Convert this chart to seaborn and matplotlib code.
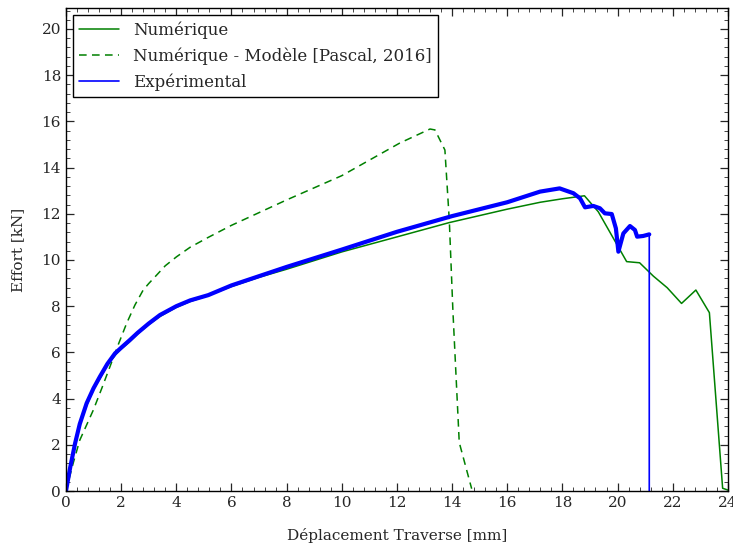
import matplotlib
matplotlib.use("Agg")
import matplotlib.pyplot as plt
import seaborn as sns
from matplotlib.ticker import MultipleLocator

# Numérique (solid green)
num_x = [0, 0.15, 0.3, 0.5, 0.75, 1.0, 1.25, 1.5, 1.8, 2.0, 2.3, 2.6, 3.0, 3.4, 4.0, 4.5, 5.0,
         6.0, 7.0, 8.0, 10.0, 12.0, 13.9, 16.0, 17.2, 18.0, 18.8, 19.3, 20.33, 20.8, 21.3,
         21.8, 22.32, 22.84, 23.33, 23.81, 24.1]
num_y = [0, 1.0, 1.95, 2.85, 3.7, 4.4, 4.9, 5.45, 5.9, 6.15, 6.45, 6.8, 7.2, 7.55, 7.95, 8.2,
         8.4, 8.85, 9.25, 9.6, 10.35, 11.0, 11.62, 12.2, 12.5, 12.65, 12.78, 12.09, 9.93,
         9.88, 9.3, 8.8, 8.12, 8.7, 7.72, 0.12, 0.0]

# Numérique - Modèle [Pascal, 2016] (dashed green)
pas_x = [0, 0.26, 0.5, 0.99, 1.3, 1.6, 1.9, 2.2, 2.5, 2.8, 3.0, 3.29, 3.6, 4.01, 4.5, 5.16,
         6.0, 8.0, 10.0, 12.1, 13.2, 13.38, 13.74, 13.9, 14.03, 14.26, 14.71]
pas_y = [0, 1.2, 2.2, 3.5, 4.45, 5.4, 6.35, 7.26, 8.05, 8.7, 8.98, 9.35, 9.75, 10.14, 10.55,
         10.98, 11.5, 12.6, 13.65, 15.06, 15.67, 15.63, 14.76, 11.7, 7.8, 2.1, 0.1]

# Expérimental (blue)
exp_x = [0, 0.15, 0.33, 0.5, 0.75, 1.0, 1.23, 1.5, 1.78, 2.0, 2.32, 2.6, 3.0, 3.41, 4.0, 4.5,
         5.16, 6.0, 7.0, 8.0, 10.0, 12.0, 14.0, 16.0, 17.19, 17.9, 18.4, 18.64, 18.82, 19.12,
         19.36, 19.54, 19.79, 19.94, 20.03, 20.21, 20.45, 20.63, 20.71, 20.93, 21.15, 21.15]
exp_y = [0, 1.0, 2.06, 2.9, 3.8, 4.45, 4.95, 5.5, 5.96, 6.2, 6.54, 6.85, 7.25, 7.62, 8.0, 8.25,
         8.48, 8.9, 9.3, 9.7, 10.45, 11.22, 11.9, 12.5, 12.96, 13.1, 12.89, 12.67, 12.28, 12.34,
         12.24, 12.02, 11.99, 11.37, 10.36, 11.15, 11.47, 11.3, 11.01, 11.04, 11.11, 0.0]

sns.set_style("ticks")
plt.rcParams['font.family'] = ['DejaVu Serif']
plt.rcParams['mathtext.fontset'] = 'dejavuserif'

fig = plt.figure(figsize=(7.33, 5.46), dpi=100)
ax = fig.add_axes([0.09, 0.1007, 0.903, 0.8843])

sns.lineplot(x=num_x, y=num_y, sort=False, estimator=None, color='#008000', lw=1.1,
             label='Numérique', ax=ax)
sns.lineplot(x=pas_x, y=pas_y, sort=False, estimator=None, color='#008000', lw=1.1,
             linestyle=(0, (5, 3.5)), label='Numérique - Modèle [Pascal, 2016]', ax=ax)
sns.lineplot(x=exp_x, y=exp_y, sort=False, estimator=None, color='#0000ff', lw=1.2,
             label='Expérimental', ax=ax)
# thick noisy band of the measurement (before the rupture)
ax.plot(exp_x[:-1], exp_y[:-1], color='#0000ff', lw=3)

ax.set_xlim(0, 24)
ax.set_ylim(0, 20.9)
ax.xaxis.set_major_locator(MultipleLocator(2))
ax.xaxis.set_minor_locator(MultipleLocator(0.4))
ax.yaxis.set_major_locator(MultipleLocator(2))
ax.yaxis.set_minor_locator(MultipleLocator(0.4))
ax.tick_params(which='both', direction='in', top=True, right=True, labelsize=11)
ax.tick_params(which='major', length=6, width=0.9)
ax.tick_params(which='minor', length=3, width=0.7, color='#444444')
for s in ax.spines.values():
    s.set_linewidth(1.0)
    s.set_color('black')

ax.set_xlabel('Déplacement Traverse [mm]', fontsize=11, labelpad=13)
ax.set_ylabel('Effort [kN]', fontsize=11, labelpad=12)

leg = ax.legend(loc='upper left', fontsize=12, frameon=True, fancybox=False,
                edgecolor='black', framealpha=1, handlelength=2.4, borderaxespad=0.4)
leg.get_frame().set_linewidth(1.0)

fig.savefig('out.png', dpi=100)
